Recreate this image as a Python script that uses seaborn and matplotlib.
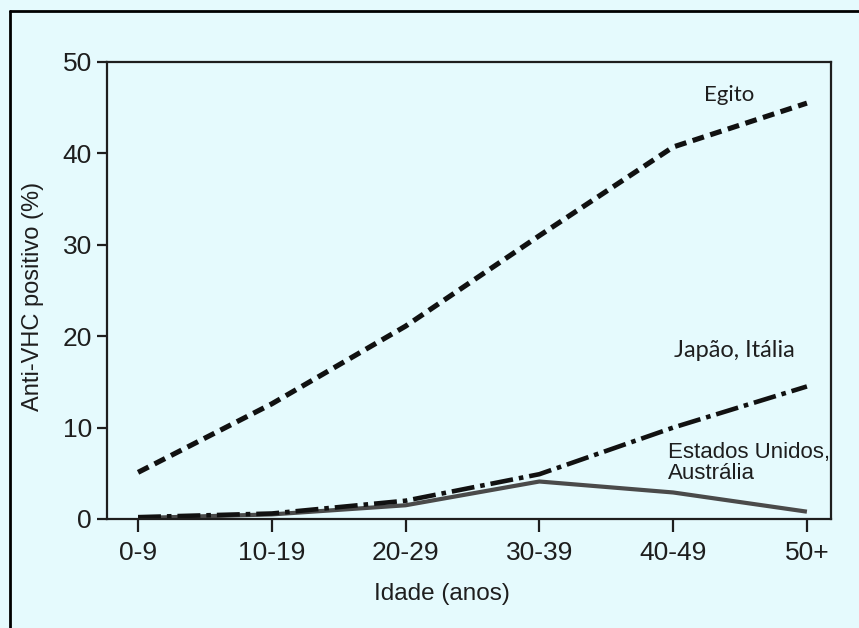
import pandas as pd
import matplotlib.pyplot as plt
import seaborn as sns
from matplotlib.lines import Line2D

# Data
IDADES = ["0-9", "10-19", "20-29", "30-39", "40-49", "50+"]
EGITO = [5.1, 12.6, 21.1, 31.0, 40.7, 45.5]
JAPAO_ITALIA = [0.2, 0.6, 2.0, 4.9, 10.0, 14.5]
EUA_AUSTRALIA = [0.1, 0.5, 1.5, 4.1, 2.9, 0.8]

BG = "#e5fafd"
INK = "#1e1e1e"

sns.set_style("ticks")
plt.rcParams["font.family"] = ["Liberation Sans", "DejaVu Sans"]

df = pd.DataFrame({"idade": IDADES * 3,
                   "valor": EGITO + JAPAO_ITALIA + EUA_AUSTRALIA,
                   "pais": ["Egito"] * 6 + ["Japao"] * 6 + ["EUA"] * 6})

fig = plt.figure(figsize=(8.59, 6.28), dpi=100, facecolor=BG)
ax = fig.add_axes([0.1246, 0.1736, 0.8428, 0.7277])
ax.set_facecolor(BG)

sns.lineplot(data=df[df.pais == "EUA"], x="idade", y="valor", color="#4a4a4a",
             lw=3.0, ax=ax, solid_capstyle="butt")
sns.lineplot(data=df[df.pais == "Japao"], x="idade", y="valor", color="#111111",
             lw=3.3, ax=ax, linestyle=(0, (5, 1.3, 1, 1.3)),
             dash_capstyle="butt")
sns.lineplot(data=df[df.pais == "Egito"], x="idade", y="valor", color="#111111",
             lw=3.7, ax=ax, linestyle=(0, (2.3, 1.3)), dash_capstyle="butt")

ax.set_xlim(-0.232, 5.18)
ax.set_ylim(0, 50)
ax.set_yticks([0, 10, 20, 30, 40, 50])
for s in ax.spines.values():
    s.set_linewidth(1.6)
    s.set_color(INK)
ax.tick_params(axis="y", length=7, width=1.6, pad=4, labelsize=19, colors=INK)
ax.tick_params(axis="x", length=9, width=1.6, pad=7, labelsize=19, colors=INK)

ax.set_xlabel("Idade (anos)", fontsize=17.5, color=INK)
ax.set_ylabel("Anti-VHC positivo (%)", fontsize=17, color=INK)
ax.xaxis.set_label_coords(0.463, -0.14)
ax.yaxis.set_label_coords(-0.087, 0.488)

ax.text(4.42, 46.4, "Egito", fontsize=16, family=["Lato", "DejaVu Sans"],
        color=INK, ha="center", va="center")
ax.text(4.46, 18.4, "Japão, Itália", fontsize=17, family=["Lato", "DejaVu Sans"],
        color=INK, ha="center", va="center")
ax.text(3.96, 6.1, "Estados Unidos,\nAustrália", fontsize=16, color=INK,
        ha="left", va="center", linespacing=1.0)

# scanned page frame (left and top edges)
fig.add_artist(Line2D([10 / 859, 10 / 859], [0, 1 - 11 / 628],
                      transform=fig.transFigure, color="black", lw=2))
fig.add_artist(Line2D([10 / 859, 1], [1 - 11 / 628, 1 - 11 / 628],
                      transform=fig.transFigure, color="black", lw=2))

fig.savefig("out.png", dpi=100, facecolor=BG)
